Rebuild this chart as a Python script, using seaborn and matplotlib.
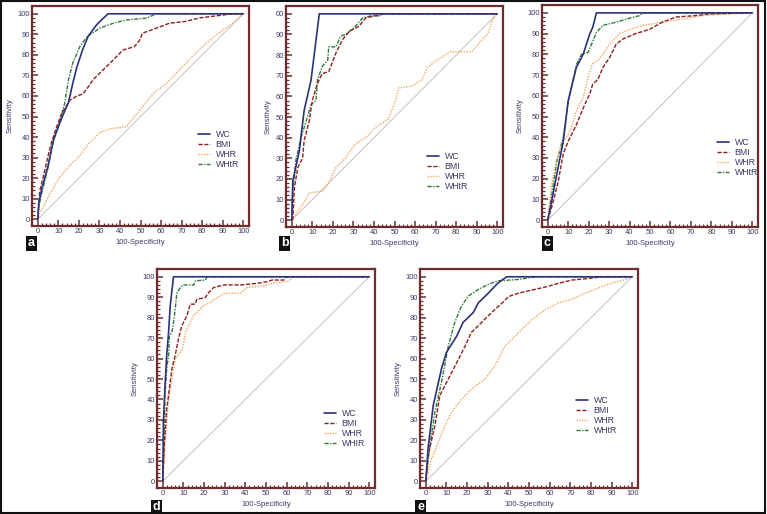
import numpy as np
import pandas as pd
import matplotlib
matplotlib.use("Agg")
import matplotlib.pyplot as plt
from matplotlib.lines import Line2D
from matplotlib.patches import Rectangle
import seaborn as sns

# ------------------------------------------------------------
# ROC points: (100-Specificity, Sensitivity)
# ------------------------------------------------------------
A_WC = [(0, 0), (0.5, 8), (2, 15), (5, 26), (7.6, 38.5), (10, 45), (12.4, 51), (15, 57),
        (17, 66), (19, 74), (22, 83), (24.5, 89), (28.6, 94.6), (31, 97), (34.2, 100), (100, 100)]
A_BMI = [(0, 0), (1, 14), (3, 22), (6, 35), (8.5, 43), (11.6, 51.5), (15.7, 58), (19, 60), (22, 61),
         (25, 65), (27, 68), (31.8, 72.7), (36.7, 77.5), (41.5, 82.4), (47, 84), (49.5, 87),
         (51, 90.6), (57.7, 93), (64, 95.4), (72, 96.3), (78.7, 98), (86.8, 99), (95, 100), (100, 100)]
A_WHR = [(0, 0), (1, 3), (2.7, 6), (6, 12.5), (10.8, 20.6), (15.7, 26.3), (20.5, 31), (25, 37),
         (30, 42), (35, 44), (43, 45), (49.6, 53), (56, 61), (62.5, 66), (69, 72.7), (75, 79),
         (82, 85.7), (88, 90.6), (95, 95.4), (100, 100)]
A_WHTR = [(0, 0), (0.5, 6), (2, 13), (5, 25), (7.6, 38), (10, 45), (13, 56), (15, 68), (17, 76),
          (20.5, 84), (24, 89), (27.8, 91.4), (30, 93), (36.7, 95.4), (43, 97), (53, 97.9),
          (57.7, 100), (100, 100)]

B_WC = [(0, 0), (0.5, 19), (3.7, 33.7), (6, 53), (9.4, 68), (13.4, 100), (100, 100)]
B_BMI = [(0.5, 0), (1.3, 15.8), (2.9, 25.5), (5.3, 30), (6, 38.5), (8.5, 48), (10, 58), (12.4, 66),
         (14.8, 71), (18, 72), (21.5, 81), (24.7, 87.5), (28, 91.5), (32.7, 94), (36, 98),
         (42.4, 99.5), (44, 100), (100, 100)]
B_WHR = [(0, 0), (5.3, 7.6), (8.5, 13.3), (15, 14), (18, 18), (21.5, 25.5), (26, 30), (31, 37),
         (36, 40), (40.8, 45), (47, 49), (50.5, 58), (52, 64), (58.5, 65), (63.4, 68), (66, 74),
         (70.5, 77.5), (77, 81.6), (87.6, 81.6), (92.4, 87.3), (95.6, 90.6), (98, 98), (100, 100)]
B_WHTR = [(0, 0), (0.5, 14), (2, 29), (4.5, 40), (7, 48), (9.4, 56), (11.8, 58), (12.5, 68),
          (15, 74.8), (17.5, 77.5), (18, 84), (21.5, 84), (23.7, 89), (27, 90.6), (31, 94),
          (34.4, 98), (38.4, 99), (43, 99), (44, 100), (100, 100)]

C_WC = [(0, 0), (1.9, 9), (4.4, 22), (7.6, 38), (10, 57.6), (14, 73.7), (17.3, 80), (20.6, 90),
        (22, 93), (23.8, 100), (100, 100)]
C_BMI = [(0, 0), (2.7, 9), (5.2, 19), (7.6, 32), (10, 38), (14, 46), (17.3, 54), (20.6, 61),
         (22, 65.6), (24.6, 68), (27, 73.7), (30.3, 78.5), (33.5, 85), (36.8, 87.4), (43, 90),
         (49.7, 92), (56, 95.5), (62.7, 98), (72.4, 98.7), (79, 99.5), (100, 100)]
C_WHR = [(0, 0), (1.9, 17), (4.4, 30), (7.6, 38), (11, 43), (14, 52.7), (17.3, 59), (19.8, 68.9),
         (22, 76), (24.6, 77), (27, 80), (30.3, 85), (35, 90), (40, 92), (46.5, 94), (56, 95.5),
         (66, 97), (75.7, 98.7), (87, 99.5), (100, 100)]
C_WHTR = [(0, 0), (1.9, 12), (4.4, 28), (7.6, 40), (10, 57), (14, 75), (16.5, 80), (19.8, 81),
          (23.8, 90.6), (27, 94), (33.5, 95.5), (38.4, 97), (45, 98.7), (46.5, 100), (100, 100)]

D_WC = [(0, 0), (0.3, 29), (1.1, 47), (1.9, 61.5), (2.8, 72.8), (3.6, 85.8), (5.2, 100), (100, 100)]
D_BMI = [(0, 0), (0.8, 19), (1.9, 35.6), (2.8, 42), (4.4, 55), (6, 61.5), (7.6, 69.6), (9.2, 76),
         (11.7, 81), (13.3, 86.6), (15.7, 86.6), (16.5, 89), (20.6, 89.8), (22, 92), (24.6, 94.7),
         (29.5, 96), (37.6, 96), (45.7, 96.8), (50.6, 97.6), (53, 98.4), (58.7, 98.4), (60, 100),
         (100, 100)]
D_WHR = [(0, 0), (1.1, 19), (2.8, 40), (4.4, 50), (6, 60), (8.4, 63), (10, 66.3), (10.9, 72.8),
         (13.3, 77.7), (14.9, 81), (17.3, 83.5), (19.8, 86), (23, 87.4), (26.3, 89.8), (30.3, 92),
         (37.6, 92), (40.8, 94.7), (49, 95.5), (53.8, 97), (60.3, 97.6), (63.5, 100), (100, 100)]
D_WHTR = [(0, 0), (0.6, 19), (1.1, 42), (1.9, 55), (2.8, 61.5), (3.2, 71), (4.4, 72.8), (5.2, 77.7),
          (6, 84), (6.8, 92), (8.4, 94.5), (10, 96), (15, 96), (15.7, 98), (20.6, 98.4), (21.4, 100),
          (100, 100)]

E_WC = [(0, 0), (1.1, 16), (3.6, 37), (7.6, 55), (10, 63), (15, 71), (18, 77.6), (23, 82.5),
        (25.5, 87.3), (30.3, 92), (35, 97), (39.2, 100), (100, 100)]
E_BMI = [(0, 0), (1.1, 12.7), (4.4, 27), (6.8, 41.9), (10.9, 50), (15, 58), (19, 66), (22, 72.7),
         (25.4, 76), (30.3, 81), (33.5, 84), (36.8, 87), (40, 90.3), (45, 92), (51.4, 93.5),
         (58, 95), (64.3, 96.8), (70.8, 98.4), (77.3, 99), (85.4, 100), (100, 100)]
E_WHR = [(0, 0), (2.8, 11), (6, 19), (9.2, 27), (12.5, 33.8), (17.3, 40), (22, 45), (28.7, 50),
         (33.5, 56.5), (38.4, 66), (45, 72.7), (51.4, 79), (58, 84), (64.3, 87.3), (70.8, 89),
         (77.3, 92), (83.8, 94.6), (90.3, 97), (96.8, 98.7), (100, 100)]
E_WHTR = [(0, 0), (2, 17.5), (4.4, 33.8), (7.6, 48.4), (10.9, 66), (14, 77.6), (17.3, 85.7),
          (20.6, 90.6), (25.5, 93.8), (30.3, 96.3), (35, 98), (45, 98.7), (53, 100), (100, 100)]

MARKERS = ["WC", "BMI", "WHR", "WHtR"]
LEGEND_LABELS = {"d": ["WC", "BMI", "WHR", "WHIR"]}
TICKS = list(range(0, 101, 10))

PANELS = {
    "a": [A_WC, A_BMI, A_WHR, A_WHTR],
    "b": [B_WC, B_BMI, B_WHR, B_WHTR],
    "c": [C_WC, C_BMI, C_WHR, C_WHTR],
    "d": [D_WC, D_BMI, D_WHR, D_WHTR],
    "e": [E_WC, E_BMI, E_WHR, E_WHTR],
}

# ------------------------------------------------------------
# styling / layout
# ------------------------------------------------------------
W, H = 767, 514
SPINE = "#6e2c2c"
TXT = "#3a3a66"
STYLES = {
    "WC":   dict(color="#2c3278", lw=1.2, ls="-"),
    "BMI":  dict(color="#8c2020", lw=1.0, ls=(0, (3, 1.2))),
    "WHR":  dict(color="#eea65a", lw=1.0, ls=(0, (1, 1))),
    "WHtR": dict(color="#2f7a3a", lw=1.0, ls=(0, (3, 1, 1, 1))),
}
# axes boxes in pixels: left, top, right, bottom
BOXES = {
    "a": (32, 6, 249, 226),
    "b": (286, 6, 503, 227),
    "c": (542, 5, 758, 227),
    "d": (157, 269, 375, 488),
    "e": (420, 269, 638, 488),
}
LEGEND_POS = {"a": (0.765, 0.435), "b": (0.65, 0.34), "c": (0.81, 0.40),
              "d": (0.766, 0.36), "e": (0.716, 0.42)}
TAG_POS = {"a": (25, 237), "b": (278, 237), "c": (541, 237), "d": (150, 501), "e": (414, 501)}

sns.set_style("ticks")
plt.rcParams["font.family"] = ["Liberation Sans", "DejaVu Sans"]

fig = plt.figure(figsize=(W / 100, H / 100), dpi=100)

for key, curves in PANELS.items():
    l, t, r, b = BOXES[key]
    ax = fig.add_axes([l / W, 1 - b / H, (r - l) / W, (b - t) / H])

    # chance diagonal
    diag = pd.DataFrame({"fpr": [0, 100], "tpr": [0, 100]})
    sns.lineplot(data=diag, x="fpr", y="tpr", ax=ax, color="#c4b4b4", lw=0.6)

    # draw back to front so WC ends on top
    for name, pts in reversed(list(zip(MARKERS, curves))):
        df = pd.DataFrame(pts, columns=["fpr", "tpr"])
        st = STYLES[name]
        sns.lineplot(data=df, x="fpr", y="tpr", ax=ax, sort=False, estimator=None,
                     color=st["color"], lw=st["lw"], linestyle=st["ls"])

    ax.set_xlim(-2.8, 102.8)
    ax.set_ylim(-3.3, 103.8)
    ax.set_xticks(TICKS)
    ax.set_yticks(TICKS)
    ylabels = [str(v) for v in TICKS]
    if key == "b":
        ylabels[-1] = "00"  # top label is cut off in the source panel
    ax.set_yticklabels(ylabels)
    ax.set_xticks(np.arange(0, 101, 2), minor=True)
    ax.set_yticks(np.arange(0, 101, 2), minor=True)
    ax.tick_params(which="both", bottom=True, left=True, top=False, right=False)
    ax.tick_params(which="major", direction="in", length=4.5, width=1.1, color=SPINE,
                   labelsize=5.5, labelcolor=TXT, pad=1.5)
    ax.tick_params(which="minor", direction="in", length=2.2, width=0.9, color=SPINE)
    for sp in ax.spines.values():
        sp.set_color(SPINE)
        sp.set_linewidth(1.6)
    ax.set_xlabel("100-Specificity", fontsize=5.5, color=TXT, labelpad=2.5)
    ax.set_ylabel("Sensitivity", fontsize=5.5, color=TXT, labelpad=2.5)

    labels = LEGEND_LABELS.get(key, MARKERS)
    handles = [Line2D([0], [0], color=STYLES[m]["color"], lw=STYLES[m]["lw"],
                      linestyle=STYLES[m]["ls"]) for m in MARKERS]
    ax.legend(handles, labels, loc="upper left", bbox_to_anchor=LEGEND_POS[key],
              frameon=False, fontsize=6.3, labelcolor=TXT, handlelength=1.4,
              handletextpad=0.6, labelspacing=0.12, borderpad=0, borderaxespad=0)

    # panel tag
    tx, ty = TAG_POS[key]
    fig.text((tx + 6.5) / W, 1 - (ty + 6.5) / H, key, color="white", fontsize=9,
             fontweight="bold", ha="center", va="center",
             bbox=dict(boxstyle="square,pad=0.15", fc="#111111", ec="none"))

# outer frame
fig.add_artist(Rectangle((0.5 / W, 1.5 / H), (W - 2.5) / W, (H - 2.5) / H, transform=fig.transFigure,
                         fill=False, ec="#111111", lw=1.5))

fig.savefig("out.png", dpi=100)
